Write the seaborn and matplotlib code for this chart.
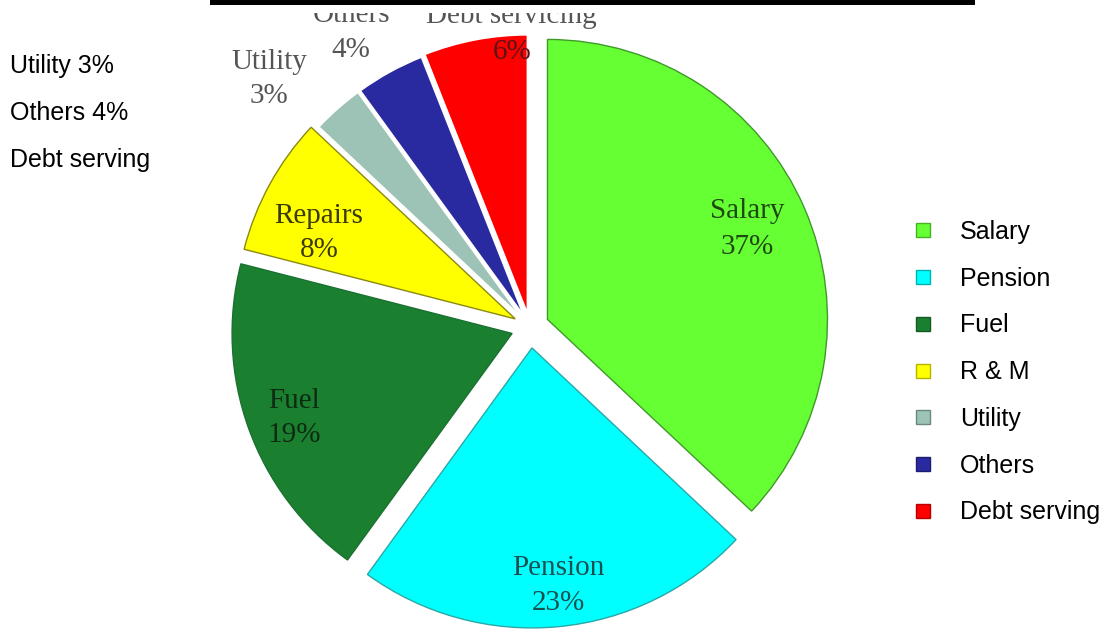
import matplotlib
matplotlib.use("Agg")
import matplotlib.pyplot as plt
from matplotlib.lines import Line2D
from matplotlib.patches import Rectangle
import seaborn as sns

# ---- data ----
categories = ["Salary", "Pension", "Fuel", "Repairs", "Utility", "Others", "Debt servicing"]
shares = [37, 23, 19, 8, 3, 4, 6]
legend_labels = ["Salary", "Pension", "Fuel", "R & M", "Utility", "Others", "Debt serving"]
side_notes = ["Utility 3%", "Others 4%", "Debt serving"]

# ---- style ----
sns.set_theme(style="white")
plt.rcParams["font.family"] = ["Liberation Sans", "DejaVu Sans"]
plt.rcParams["text.color"] = "black"

W, H = 1113, 633
fig = plt.figure(figsize=(W / 100, H / 100), dpi=100)
fig.patch.set_facecolor("white")

palette = sns.color_palette(["#66FF33", "#00FFFF", "#1A8030", "#FFFF00",
                             "#9CC3B5", "#2A2AA0", "#FF0000"])
edge_cols = ["#3F9A2A", "#2AA8A8", "#1A7030", "#8A8A10", "white", "white", "white"]
explode = [0.068, 0.075, 0.068, 0.06, 0.04, 0.04, 0.045]

# pie axes spanning the whole figure; centre at pixel (530, 327), radius 280 px
cx, cy, R = 530, 327, 280
ax = fig.add_axes([0, 0, 1, 1])
wedges, _ = ax.pie(shares, colors=palette, explode=explode, startangle=90,
                   counterclock=False, radius=1, center=(0, 0),
                   wedgeprops=dict(linewidth=1.0))
for w, ec in zip(wedges, edge_cols):
    w.set_edgecolor(ec)
    if ec == "white":
        w.set_linewidth(1.5)
ax.set_aspect("auto")
ax.set_xlim(-cx / R, (W - cx) / R)
ax.set_ylim(-(H - cy) / R, cy / R)
ax.axis("off")


def fx(px):
    return px / W


def fy(py):
    return 1 - py / H


# wedge labels: pixel centres of name line and percentage line
name_pos = [(747, 211), (558, 568), (294, 401), (319, 216),
            (269, 62), (351, 15), (511, 16)]
pct_pos = [(747, 247), (558, 603), (294, 435), (319, 250),
           (269, 96), (351, 50), (512, 52)]
name_cols = ["#1E4A12", "#1A5050", "#0E2A12", "#3A3A08",
             "#555555", "#555555", "#555555"]
pct_cols = ["#1E4A12", "#1A5050", "#0E2A12", "#3A3A08",
            "#555555", "#555555", "#5A1414"]
serif = ["Liberation Serif", "DejaVu Serif"]
for cat, val, npos, ppos, nc, pc in zip(categories, shares, name_pos, pct_pos,
                                        name_cols, pct_cols):
    fig.text(fx(npos[0]), fy(npos[1]), cat, ha="center", va="center",
             fontsize=21, color=nc, family=serif, zorder=3)
    fig.text(fx(ppos[0]), fy(ppos[1]), f"{val}%", ha="center", va="center",
             fontsize=21, color=pc, family=serif, zorder=3)

# cropped top: white band then black bar
fig.patches.append(Rectangle((0, fy(13)), 1, 13 / H, transform=fig.transFigure,
                             facecolor="white", edgecolor="none", zorder=5))
fig.patches.append(Rectangle((fx(210), fy(5)), fx(975) - fx(210), 5 / H,
                             transform=fig.transFigure, facecolor="black",
                             edgecolor="none", zorder=6))

# side notes on the left
for note, base in zip(side_notes, [73, 120, 167]):
    fig.text(fx(10), fy(base), note, ha="left", va="baseline", fontsize=18,
             color="black")

# legend
handles = [Line2D([], [], ls="", marker="s", markersize=10, markerfacecolor=c,
                  markeredgecolor=(c[0] * 0.7, c[1] * 0.7, c[2] * 0.7),
                  markeredgewidth=1.0)
           for c in palette]
leg = fig.legend(handles, legend_labels, loc="upper left",
                 bbox_to_anchor=(fx(911), fy(220)), frameon=False, fontsize=18,
                 handlelength=1.0, handletextpad=0.95, labelspacing=0.91,
                 borderpad=0, borderaxespad=0)
for t in leg.get_texts():
    t.set_color("black")

fig.savefig("out.png", dpi=100, facecolor="white")
